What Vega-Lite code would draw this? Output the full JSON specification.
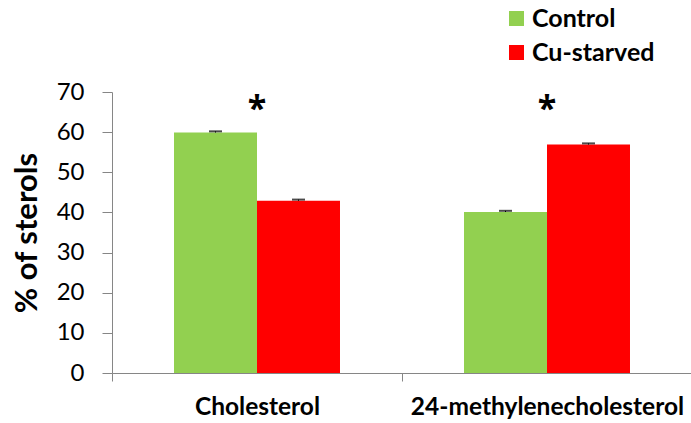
{
  "$schema": "https://vega.github.io/schema/vega-lite/v6.json",
  "width": 580,
  "height": 281,
  "autosize": {"type": "none"},
  "padding": {"left": 112, "top": 92, "right": 0, "bottom": 50},
  "background": "white",
  "config": {"view": {"stroke": null}, "font": "Lato"},
  "datasets": {
    "bars": [
      {"sterol": "Cholesterol", "group": "Control", "value": 59.9, "hi": 60.2},
      {"sterol": "Cholesterol", "group": "Cu-starved", "value": 42.9, "hi": 43.2},
      {"sterol": "24-methylenecholesterol", "group": "Control", "value": 40.1, "hi": 40.4},
      {"sterol": "24-methylenecholesterol", "group": "Cu-starved", "value": 56.9, "hi": 57.2}
    ],
    "stars": [
      {"sterol": "Cholesterol", "label": "*", "pos": 67},
      {"sterol": "24-methylenecholesterol", "label": "*", "pos": 67}
    ]
  },
  "layer": [
    {
      "data": {"name": "bars"},
      "mark": {"type": "bar"},
      "encoding": {
        "x": {
          "field": "sterol", "type": "nominal", "sort": null,
          "scale": {"paddingInner": 0, "paddingOuter": 0},
          "axis": {
            "title": null, "labelAngle": 0, "tickBand": "extent", "labelLimit": 0,
            "domainColor": "#868686", "tickColor": "#868686", "tickSize": 8,
            "labelFontSize": 24.5, "labelFontWeight": "bold", "labelColor": "black",
            "labelPadding": 14, "labelFont": "Lato"
          }
        },
        "xOffset": {
          "field": "group", "type": "nominal", "sort": null,
          "scale": {"paddingInner": 0, "paddingOuter": 0.747}
        },
        "y": {
          "field": "value", "type": "quantitative",
          "scale": {"domain": [0, 70], "nice": false},
          "axis": {
            "title": "% of sterols", "titleFontSize": 31, "titleFontWeight": "bold",
            "titleColor": "black", "titlePadding": 13,
            "values": [0, 10, 20, 30, 40, 50, 60, 70],
            "grid": false, "domainColor": "#868686", "tickColor": "#868686", "tickSize": 10,
            "labelFontSize": 24, "labelColor": "black", "labelPadding": 18
          }
        },
        "color": {
          "field": "group", "type": "nominal", "sort": null,
          "scale": {"domain": ["Control", "Cu-starved"], "range": ["#92D050", "#FF0000"]},
          "legend": {
            "title": null, "orient": "none", "legendX": 392, "legendY": -86,
            "symbolType": "square", "symbolSize": 225, "symbolStrokeWidth": 0,
            "labelFontSize": 25, "labelFontWeight": "bold", "labelColor": "black",
            "rowPadding": 8, "labelOffset": 3
          }
        }
      }
    },
    {
      "data": {"name": "bars"},
      "mark": {"type": "rule", "color": "black", "strokeWidth": 1},
      "encoding": {
        "x": {"field": "sterol", "type": "nominal", "sort": null},
        "xOffset": {"field": "group", "type": "nominal", "sort": null},
        "y": {"field": "value", "type": "quantitative"},
        "y2": {"field": "hi"}
      }
    },
    {
      "data": {"name": "bars"},
      "mark": {"type": "tick", "color": "black", "thickness": 2, "size": 13, "orient": "horizontal"},
      "encoding": {
        "x": {"field": "sterol", "type": "nominal", "sort": null},
        "xOffset": {"field": "group", "type": "nominal", "sort": null},
        "y": {"field": "hi", "type": "quantitative"}
      }
    },
    {
      "data": {"name": "stars"},
      "mark": {"type": "text", "font": "Open Sans", "fontSize": 34, "fontWeight": "bold", "color": "black", "baseline": "middle", "dy": 6},
      "encoding": {
        "x": {"field": "sterol", "type": "nominal", "sort": null},
        "y": {"field": "pos", "type": "quantitative"},
        "text": {"field": "label"}
      }
    }
  ]
}
